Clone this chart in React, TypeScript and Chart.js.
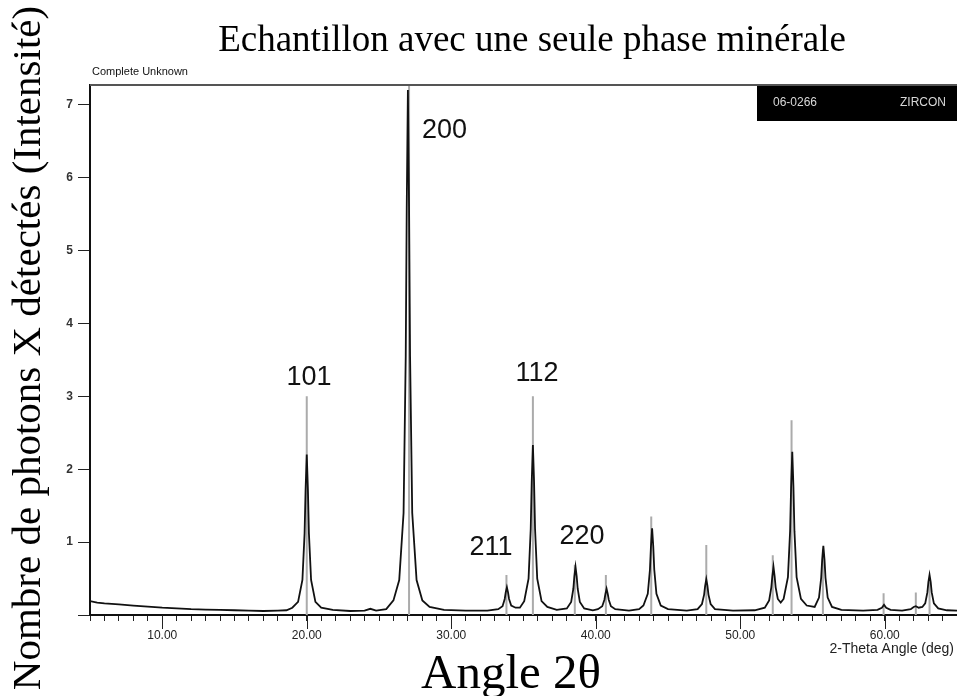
import React, { useEffect, useRef } from 'react';
import { Chart, registerables } from 'chart.js';

Chart.register(...registerables);

// Measured diffraction pattern (2θ in degrees, intensity)
const measX = [
  5.0, 5.5, 6.0, 7.0, 8.0, 9.0, 10.0, 11.0, 12.0, 13.0, 14.0, 15.0, 16.0, 17.0, 18.0, 18.6,
  19.0, 19.4, 19.7, 19.85, 19.92, 20.0, 20.08, 20.15, 20.3, 20.6, 21.0, 21.8, 23.0, 24.0, 24.4, 24.8,
  25.5, 26.0, 26.4, 26.7, 26.85, 26.92, 27.0, 27.08, 27.15, 27.3, 27.6, 28.0, 28.5, 29.5, 31.0, 32.5,
  33.25, 33.55, 33.7, 33.77, 33.85, 33.93, 34.0, 34.15, 34.45, 34.75,
  35.05, 35.35, 35.5, 35.57, 35.65, 35.73, 35.8, 35.95, 36.25, 36.65, 37.3,
  38.0, 38.3, 38.45, 38.52, 38.6, 38.68, 38.75, 38.9, 39.2, 39.8,
  40.15, 40.45, 40.6, 40.67, 40.75, 40.83, 40.9, 41.05, 41.35, 42.3,
  43.0, 43.3, 43.6, 43.75, 43.82, 43.9, 43.98, 44.05, 44.2, 44.5, 45.0, 46.3,
  47.05, 47.35, 47.5, 47.57, 47.65, 47.73, 47.8, 47.95, 48.25, 49.5, 51.0,
  51.7, 52.0, 52.15, 52.22, 52.3, 52.38, 52.45, 52.6, 52.8, 53.0,
  53.3, 53.45, 53.52, 53.6, 53.68, 53.75, 53.9, 54.2, 54.6,
  55.15, 55.45, 55.6, 55.67, 55.75, 55.83, 55.9, 56.05, 56.35, 57.0, 58.5,
  59.5, 59.8, 59.95, 60.1, 60.4, 61.2, 61.8, 62.0, 62.15, 62.35, 62.6,
  62.8, 62.95, 63.02, 63.1, 63.18, 63.25, 63.4, 63.7, 64.3, 65.0,
];
const measY = [
  0.19, 0.17, 0.16, 0.145, 0.13, 0.115, 0.1, 0.09, 0.08, 0.075, 0.07, 0.065, 0.06, 0.055, 0.06, 0.065,
  0.1, 0.18, 0.48, 1.12, 1.72, 2.2, 1.72, 1.12, 0.48, 0.18, 0.1, 0.07, 0.055, 0.06, 0.085, 0.06,
  0.08, 0.2, 0.48, 1.4, 3.55, 5.6, 7.2, 5.6, 3.55, 1.4, 0.48, 0.2, 0.11, 0.07, 0.06, 0.06,
  0.08, 0.12, 0.22, 0.31, 0.38, 0.31, 0.22, 0.13, 0.1, 0.1,
  0.19, 0.5, 1.18, 1.83, 2.33, 1.83, 1.18, 0.5, 0.19, 0.11, 0.07,
  0.09, 0.18, 0.36, 0.53, 0.66, 0.53, 0.36, 0.18, 0.09, 0.065,
  0.08, 0.12, 0.21, 0.29, 0.36, 0.29, 0.21, 0.12, 0.08, 0.06,
  0.08, 0.13, 0.29, 0.62, 0.94, 1.19, 0.94, 0.62, 0.29, 0.13, 0.08, 0.06,
  0.08, 0.15, 0.28, 0.4, 0.49, 0.4, 0.28, 0.15, 0.08, 0.06, 0.065,
  0.1, 0.2, 0.38, 0.53, 0.66, 0.53, 0.38, 0.22, 0.17, 0.22,
  0.52, 1.15, 1.76, 2.24, 1.76, 1.15, 0.52, 0.22, 0.13,
  0.11, 0.24, 0.51, 0.76, 0.95, 0.76, 0.51, 0.24, 0.11, 0.07, 0.06,
  0.07, 0.1, 0.14, 0.1, 0.07, 0.06, 0.08, 0.11, 0.12, 0.1, 0.11,
  0.16, 0.31, 0.45, 0.55, 0.45, 0.31, 0.16, 0.09, 0.065, 0.06,
];

// Reference card 06-0266 (Zircon) stick lines
const stickX = [20.0, 27.08, 33.82, 35.65, 38.55, 40.7, 43.84, 47.65, 52.25, 53.55, 55.72, 59.92, 62.15, 63.1];
const stickY = [3.0, 7.27, 0.55, 3.0, 0.69, 0.55, 1.35, 0.96, 0.82, 2.67, 0.9, 0.3, 0.31, 0.45];

// Miller index annotations
const peakLabels = ['101', '200', '112', '211', '220'];
const peakLabelX = [20.16, 29.53, 35.93, 32.75, 39.05];
const peakLabelY = [3.26, 6.64, 3.31, 0.92, 1.07];

const xMajorTicks = [10, 20, 30, 40, 50, 60];

const TITLE = 'Echantillon avec une seule phase minérale';
const Y_TITLE = 'Nombre de photons X détectés (Intensité)';
const X_TITLE = 'Angle 2θ';
const SAMPLE_LABEL = 'Complete Unknown';
const CARD_ID = '06-0266';
const CARD_NAME = 'ZIRCON';
const X_UNIT_LABEL = '2-Theta Angle (deg)';

const decorPlugin = {
  id: 'decor',
  afterDraw(chart: any) {
    const { ctx, chartArea: ca, scales } = chart;
    const xs = scales.x;
    const ys = scales.y;
    ctx.save();

    // top frame line
    ctx.strokeStyle = '#555';
    ctx.lineWidth = 2;
    ctx.beginPath();
    ctx.moveTo(ca.left, ca.top);
    ctx.lineTo(957, ca.top);
    ctx.stroke();

    // longer major ticks on x axis
    ctx.strokeStyle = '#222';
    ctx.lineWidth = 1;
    xMajorTicks.forEach((v) => {
      const px = Math.round(xs.getPixelForValue(v)) + 0.5;
      ctx.beginPath();
      ctx.moveTo(px, ca.bottom);
      ctx.lineTo(px, ca.bottom + 14);
      ctx.stroke();
    });

    // card box
    ctx.fillStyle = '#000';
    ctx.fillRect(757, ca.top + 1, 200, 35);
    ctx.fillStyle = '#d8d8d8';
    ctx.font = '12px "Liberation Sans", sans-serif';
    ctx.textBaseline = 'middle';
    ctx.textAlign = 'left';
    ctx.fillText(CARD_ID, 773, ca.top + 18);
    ctx.textAlign = 'right';
    ctx.fillText(CARD_NAME, 946, ca.top + 18);

    // sample label
    ctx.fillStyle = '#111';
    ctx.font = '11px "Liberation Sans", sans-serif';
    ctx.textAlign = 'left';
    ctx.fillText(SAMPLE_LABEL, 92, 72);

    // x unit label
    ctx.fillStyle = '#222';
    ctx.font = '14px "Liberation Sans", sans-serif';
    ctx.textAlign = 'right';
    ctx.fillText(X_UNIT_LABEL, 954, 649);

    // peak labels
    ctx.fillStyle = '#111';
    ctx.font = '27px "Liberation Sans", sans-serif';
    ctx.textAlign = 'center';
    ctx.textBaseline = 'middle';
    peakLabels.forEach((t, i) => {
      ctx.fillText(t, xs.getPixelForValue(peakLabelX[i]), ys.getPixelForValue(peakLabelY[i]));
    });

    // main title
    ctx.fillStyle = '#000';
    ctx.font = '37px "Liberation Serif", serif';
    ctx.textAlign = 'center';
    ctx.textBaseline = 'alphabetic';
    ctx.fillText(TITLE, 532, 51);

    // x title
    ctx.font = '49px "Liberation Serif", serif';
    ctx.fillText(X_TITLE, 511, 688);

    // y title
    ctx.save();
    ctx.translate(40, 348);
    ctx.rotate(-Math.PI / 2);
    ctx.font = '41px "Liberation Serif", serif';
    ctx.textAlign = 'center';
    ctx.textBaseline = 'alphabetic';
    ctx.fillText(Y_TITLE, 0, 0);
    ctx.restore();

    ctx.restore();
  },
};

export default function App() {
  const ref = useRef<HTMLCanvasElement | null>(null);

  useEffect(() => {
    if (!ref.current) return;
    const measured = measX.map((x, i) => ({ x, y: measY[i] }));
    const sticks: any[] = [];
    stickX.forEach((x, i) => {
      sticks.push({ x, y: 0 });
      sticks.push({ x, y: stickY[i] });
      sticks.push({ x, y: null });
    });

    const chart = new Chart(ref.current, {
      type: 'scatter',
      data: {
        datasets: [
          {
            label: 'measured',
            data: measured,
            showLine: true,
            borderColor: '#111',
            borderWidth: 1.8,
            pointRadius: 0,
            tension: 0,
          },
          {
            label: 'reference',
            data: sticks,
            showLine: true,
            spanGaps: false,
            borderColor: '#ababab',
            borderWidth: 2,
            pointRadius: 0,
            tension: 0,
          },
        ],
      },
      options: {
        animation: false,
        responsive: false,
        devicePixelRatio: 1,
        layout: { padding: { top: 85, left: 0, right: 0, bottom: 0 } },
        plugins: {
          legend: { display: false },
          tooltip: { enabled: false },
          title: { display: false },
        },
        scales: {
          x: {
            type: 'linear',
            min: 5,
            max: 65,
            afterFit: (s: any) => {
              s.height = 81;
              s.paddingLeft = 0;
              s.paddingRight = 0;
            },
            afterBuildTicks: (s: any) => {
              s.ticks = s.ticks.filter((t: any) => Number.isInteger(t.value));
            },
            ticks: {
              stepSize: 1,
              autoSkip: false,
              maxRotation: 0,
              padding: 7,
              color: '#222',
              font: { family: 'Liberation Sans', size: 12 },
              callback: (v: any) => (v % 10 === 0 ? Number(v).toFixed(2) : ''),
            },
            grid: {
              display: true,
              drawOnChartArea: false,
              drawTicks: true,
              tickLength: 6,
              color: '#222',
            },
            border: { display: true, color: '#111', width: 2 },
          },
          y: {
            type: 'linear',
            min: 0,
            max: 7.27,
            afterFit: (s: any) => {
              s.width = 90;
              s.paddingTop = 0;
              s.paddingBottom = 0;
            },
            afterBuildTicks: (s: any) => {
              s.ticks = s.ticks.filter((t: any) => Number.isInteger(t.value));
            },
            ticks: {
              stepSize: 1,
              padding: 5,
              color: '#333',
              font: { family: 'Liberation Sans', size: 12, weight: 'bold' },
              callback: (v: any) => (v === 0 ? '' : String(v)),
            },
            grid: {
              display: true,
              drawOnChartArea: false,
              drawTicks: true,
              tickLength: 12,
              color: '#222',
            },
            border: { display: true, color: '#111', width: 2 },
          },
        },
      },
      plugins: [decorPlugin],
    });
    return () => chart.destroy();
  }, []);

  return (
    <div style={{ position: 'fixed', left: 0, top: 0, width: 957, height: 696, background: '#fff' }}>
      <canvas ref={ref} width={957} height={696} style={{ display: 'block' }} />
    </div>
  );
}
